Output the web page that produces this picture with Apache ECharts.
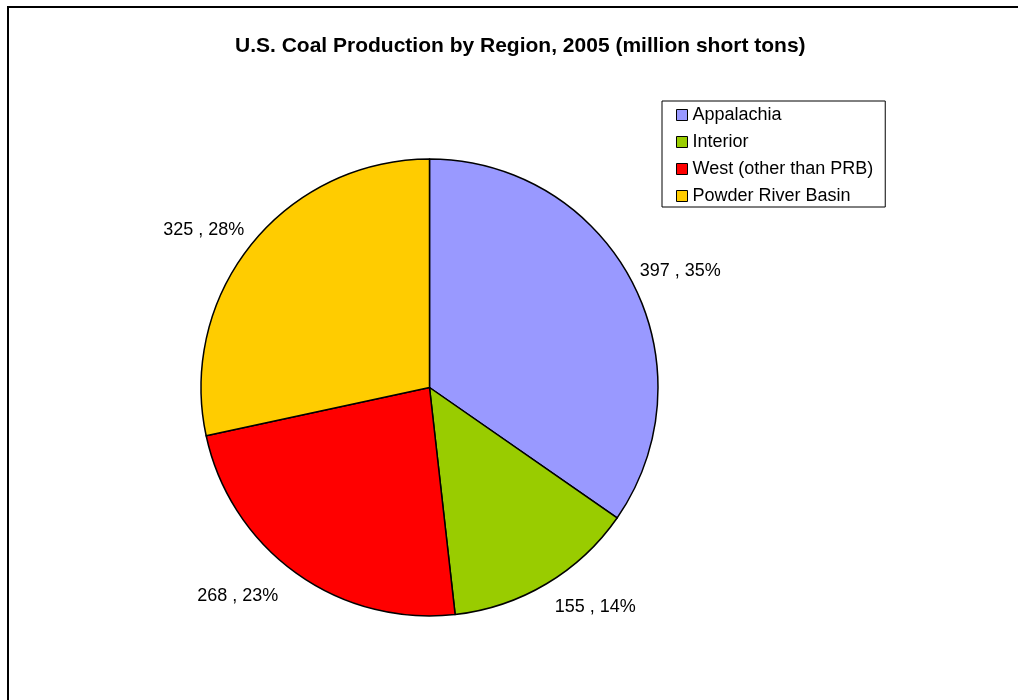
<!DOCTYPE html>
<html>
<head>
<meta charset="utf-8">
<script src="https://cdn.jsdelivr.net/npm/echarts@6/dist/echarts.min.js"></script>
<style>
html,body{margin:0;padding:0;background:#fff;}
#chart{width:1018px;height:700px;}
</style>
</head>
<body>
<div id="chart"></div>
<script>
var categories = ['Appalachia', 'Interior', 'West (other than PRB)', 'Powder River Basin'];
var values = [397, 155, 268, 325];
var colors = ['#9999FF', '#99CC00', '#FF0000', '#FFCC00'];
var titleText = 'U.S. Coal Production by Region, 2005 (million short tons)';
// small label nudges (dx, dy) so labels sit like the reference
var labelShiftX = [-8, -3, -6, 7];
var labelShiftY = [-5, 13, 13, -6];

var chart = echarts.init(document.getElementById('chart'), null, {renderer: 'canvas'});
var data = categories.map(function (c, i) {
  return {name: c, value: values[i], itemStyle: {color: colors[i]}};
});
var font = '"Liberation Sans", Arial, sans-serif';
chart.setOption({
  backgroundColor: '#ffffff',
  animation: false,
  title: {
    text: titleText,
    left: 230,
    top: 31,
    textStyle: {fontFamily: font, fontSize: 21, fontWeight: 'bold', color: '#000'}
  },
  graphic: [{
    type: 'rect',
    shape: {x: 8, y: 7, width: 1030, height: 720},
    style: {fill: 'none', stroke: '#000', lineWidth: 2},
    silent: true
  }],
  legend: {
    orient: 'vertical',
    left: 662,
    top: 101,
    padding: [5, 12, 2, 14],
    itemGap: 9,
    itemWidth: 11,
    itemHeight: 11,
    icon: 'rect',
    borderColor: '#000',
    borderWidth: 1,
    itemStyle: {borderColor: '#000', borderWidth: 1},
    textStyle: {fontFamily: font, fontSize: 18, color: '#000', lineHeight: 18},
    data: categories
  },
  series: [{
    type: 'pie',
    center: [429.5, 387.5],
    radius: 228.5,
    startAngle: 90,
    clockwise: true,
    data: data,
    itemStyle: {borderColor: '#000', borderWidth: 1.5},
    emphasis: {disabled: true},
    label: {
      show: true,
      position: 'outside',
      fontFamily: font,
      fontSize: 18,
      color: '#000',
      formatter: function (p) { return p.value + ' , ' + Math.round(p.percent) + '%'; }
    },
    labelLine: {show: false, length: 12, length2: 0},
    labelLayout: function (p) {
      return {dx: labelShiftX[p.dataIndex], dy: labelShiftY[p.dataIndex]};
    }
  }]
});
</script>
</body>
</html>
